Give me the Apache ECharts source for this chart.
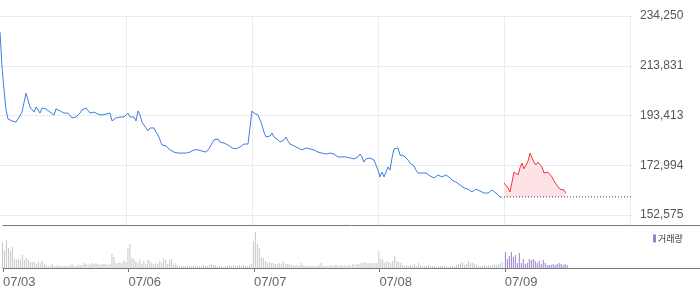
<!DOCTYPE html>
<html><head><meta charset="utf-8">
<script src="https://cdn.jsdelivr.net/npm/echarts@6/dist/echarts.min.js"></script>
<style>html,body{margin:0;padding:0;background:#fff}#c{width:700px;height:289px}</style>
</head><body><div id="c"></div>
<script>
// ---- data ----
const dayLabels = ['07/03', '07/06', '07/07', '07/08', '07/09'];
const slotsPerDay = 63;
const prevClose = 160000;
const yMin = 152575, yMax = 234250;

const price0703 = [227700,213300,203900,195700,192000,191600,191200,192000,190700,192000,
  191200,194800,194800,202600,199800,196900,196500,194800,196900,195700,
  194400,196500,195700,196100,195300,194800,194400,193600,196100,196100,
  195300,194800,194400,194000,194400,193600,192400,192800,192800,193600,
  194400,195700,196100,196500,196500,194400,194000,194800,194800,194000,
  193600,193600,193600,194000,194800,194400,191200,192000,192400,192800,
  192800,193600,192800];
const price0706 = [193600,194400,192800,193600,192800,191200,195300,193600,190700,190300,
  188300,187100,188300,189100,188300,186600,185400,183400,181300,182100,
  180900,180100,179300,178800,178400,178000,178000,178400,178000,178400,
  178000,178400,178400,178800,179300,179700,179300,178800,178800,178400,
  178400,179300,180500,181300,183400,184200,183800,182500,182100,182100,
  182100,181300,180500,180100,179300,179700,179300,180500,181300,181700,
  181700,181700,181700];
const price0707 = [195300,194400,193600,193600,191600,189500,186600,184600,184200,185000,
  186200,184600,184200,183400,182500,181700,183400,184600,182900,181700,
  181300,180900,180500,180100,179700,179300,179700,180100,180100,179700,
  179700,179300,178800,178400,178400,178000,178000,177600,177200,178000,
  178800,177600,177200,176400,176000,176400,176400,176400,176000,176000,
  176000,175600,176000,176400,177600,176400,174300,175600,176400,176000,
  176000,175100,174700];
const price0708 = [171000,168200,170200,168200,170200,172300,171000,176000,179700,179300,
  180100,177200,177200,176800,176000,175100,173900,173900,172700,171000,
  169800,170200,169800,169400,169800,169000,168600,168200,167800,168600,
  169000,168600,168200,168600,169000,168600,167800,166900,166500,166100,
  165300,164900,164100,163700,164100,163200,162800,162000,161200,163200,
  162800,162400,162000,161600,162000,161600,162400,162800,162400,161600,
  160800,160000,160000];
const price0709 = [165700,165300,163700,162000,166100,170200,169800,169000,171900,173900,
  171500,171000,174700,178000,176000,174300,173100,174300,173500,172300,
  169800,169800,170200,170200,168200,166500,165300,164100,163200,162800,
  162800,161600];

const vol0703 = [26,18,28,20,17,21,9,8,9,8,13,8,10,8,6,6,6,4,6,5,7,4,3,2,2,4,2,2,3,2,2,2,2,2,3,4,2,2,3,3,3,5,4,3,4,5,4,5,4,3,4,4,4,3,4,14,11,5,5,6,5,8,6];
const vol0706 = [20,24,10,9,7,5,8,4,7,4,8,7,5,4,5,4,7,5,10,8,4,8,9,3,5,3,2,2,2,2,2,2,2,3,2,2,2,2,3,2,2,3,4,3,3,2,2,2,1,2,2,3,2,3,2,2,3,2,3,2,2,3,4];
const vol0707 = [27,36,24,20,10,10,7,5,6,5,5,4,4,5,4,7,4,4,4,3,3,2,3,2,5,3,2,2,2,2,2,2,2,3,5,2,2,2,2,3,2,3,3,2,3,2,3,2,3,2,4,3,4,4,5,5,6,5,5,5,5,5,5];
const vol0708 = [17,9,8,5,7,6,5,7,12,7,6,5,3,2,3,2,3,2,4,2,5,2,2,2,2,3,2,2,2,1,2,2,2,2,2,1,2,2,2,3,4,5,6,3,4,7,5,5,4,3,2,2,2,3,2,3,2,3,4,3,4,5,6];
const vol0709 = [16,9,12,16,11,13,5,15,5,9,4,5,9,8,9,7,5,7,4,8,5,3,3,3,4,3,4,5,4,3,4,3];

// ---- build ----
const pastPrice = [].concat(price0703, price0706, price0707, price0708).map((v, i) => [i, v]);
const todayStart = 4 * slotsPerDay;
const todayPrice = price0709.map((v, i) => [todayStart + i, v]);
const pastVol = [].concat(vol0703, vol0706, vol0707, vol0708).map((v, i) => [i, v]);
const todayVol = vol0709.map((v, i) => [todayStart + i, v]);
const dayTicks = dayLabels.map((d, i) => i * slotsPerDay);
const xEnd = 316;

const splitX = {show: true, showMinLine: false, showMaxLine: false, lineStyle: {color: '#ebebeb', width: 1}};
const chart = echarts.init(document.getElementById('c'), null, {renderer: 'canvas'});
chart.setOption({
  animation: false,
  textStyle: {fontFamily: 'Liberation Sans, Arial, sans-serif'},
  grid: [
    {left: 0, right: 68, top: 16, height: 199},
    {left: 0, right: 68, top: 215, height: 10},
    {left: 0, right: 0, top: 225, height: 43}
  ],
  legend: {
    data: ['거래량'], left: 648, top: 229, icon: 'rect', itemWidth: 3, itemHeight: 8,
    textStyle: {fontSize: 9, color: '#333', fontFamily: 'Noto Sans CJK KR', padding: [0, 0, 0, -3]}
  },
  xAxis: [
    {gridIndex: 0, type: 'value', min: 0, max: xEnd, interval: slotsPerDay,
     axisLine: {show: false}, axisTick: {show: false}, axisLabel: {show: false}, splitLine: splitX},
    {gridIndex: 1, type: 'value', min: 0, max: xEnd, interval: slotsPerDay,
     axisLine: {show: false}, axisTick: {show: false}, axisLabel: {show: false}, splitLine: splitX},
    {gridIndex: 2, type: 'value', min: 0, max: 350, position: 'bottom',
     axisLine: {show: true, onZero: false, lineStyle: {color: '#777'}},
     axisTick: {show: true, customValues: dayTicks, length: 4, lineStyle: {color: '#777'}},
     axisLabel: {show: true, customValues: dayTicks, align: 'left', color: '#666', fontSize: 13, margin: 8,
       formatter: v => dayLabels[Math.round(v / slotsPerDay)] || ''},
     splitLine: {show: false}},
    {gridIndex: 2, type: 'value', min: 0, max: 350, position: 'top',
     axisLine: {show: true, onZero: false, lineStyle: {color: '#777'}},
     axisTick: {show: false}, axisLabel: {show: false}, splitLine: {show: false}}
  ],
  yAxis: [
    {gridIndex: 0, type: 'value', position: 'right', min: yMin, max: yMax, interval: (yMax - yMin) / 4,
     axisLine: {show: false}, axisTick: {show: false},
     axisLabel: {color: '#555', fontSize: 12, margin: 8,
       formatter: v => Math.round(v).toLocaleString('en-US')},
     splitLine: {show: true, lineStyle: {color: '#ebebeb'}}},
    {gridIndex: 1, type: 'value', min: 0, max: 1, show: false},
    {gridIndex: 2, type: 'value', min: 0, max: 43, show: false}
  ],
  series: [
    {name: 'past', type: 'line', xAxisIndex: 0, yAxisIndex: 0, data: pastPrice,
     symbol: 'none', lineStyle: {color: '#3c7fdf', width: 1}, itemStyle: {color: '#3c7fdf'}},
    {name: 'today', type: 'line', xAxisIndex: 0, yAxisIndex: 0, data: todayPrice,
     symbol: 'none', lineStyle: {color: '#f2333f', width: 1}, itemStyle: {color: '#f2333f'},
     areaStyle: {color: '#fde3e5', opacity: 1, origin: prevClose}},
    {name: 'base', type: 'line', xAxisIndex: 0, yAxisIndex: 0,
     data: [[todayStart, prevClose], [xEnd, prevClose]], symbol: 'none', z: 5,
     lineStyle: {color: '#444', width: 1, type: [1, 2]}},
    {name: 'volPast', type: 'bar', xAxisIndex: 2, yAxisIndex: 2, data: pastVol,
     barWidth: 1, itemStyle: {color: '#c4c7cc'}},
    {name: '거래량', type: 'bar', xAxisIndex: 2, yAxisIndex: 2, data: todayVol,
     barWidth: 1, itemStyle: {color: '#9a80cc'}}
  ]
});
</script></body></html>
